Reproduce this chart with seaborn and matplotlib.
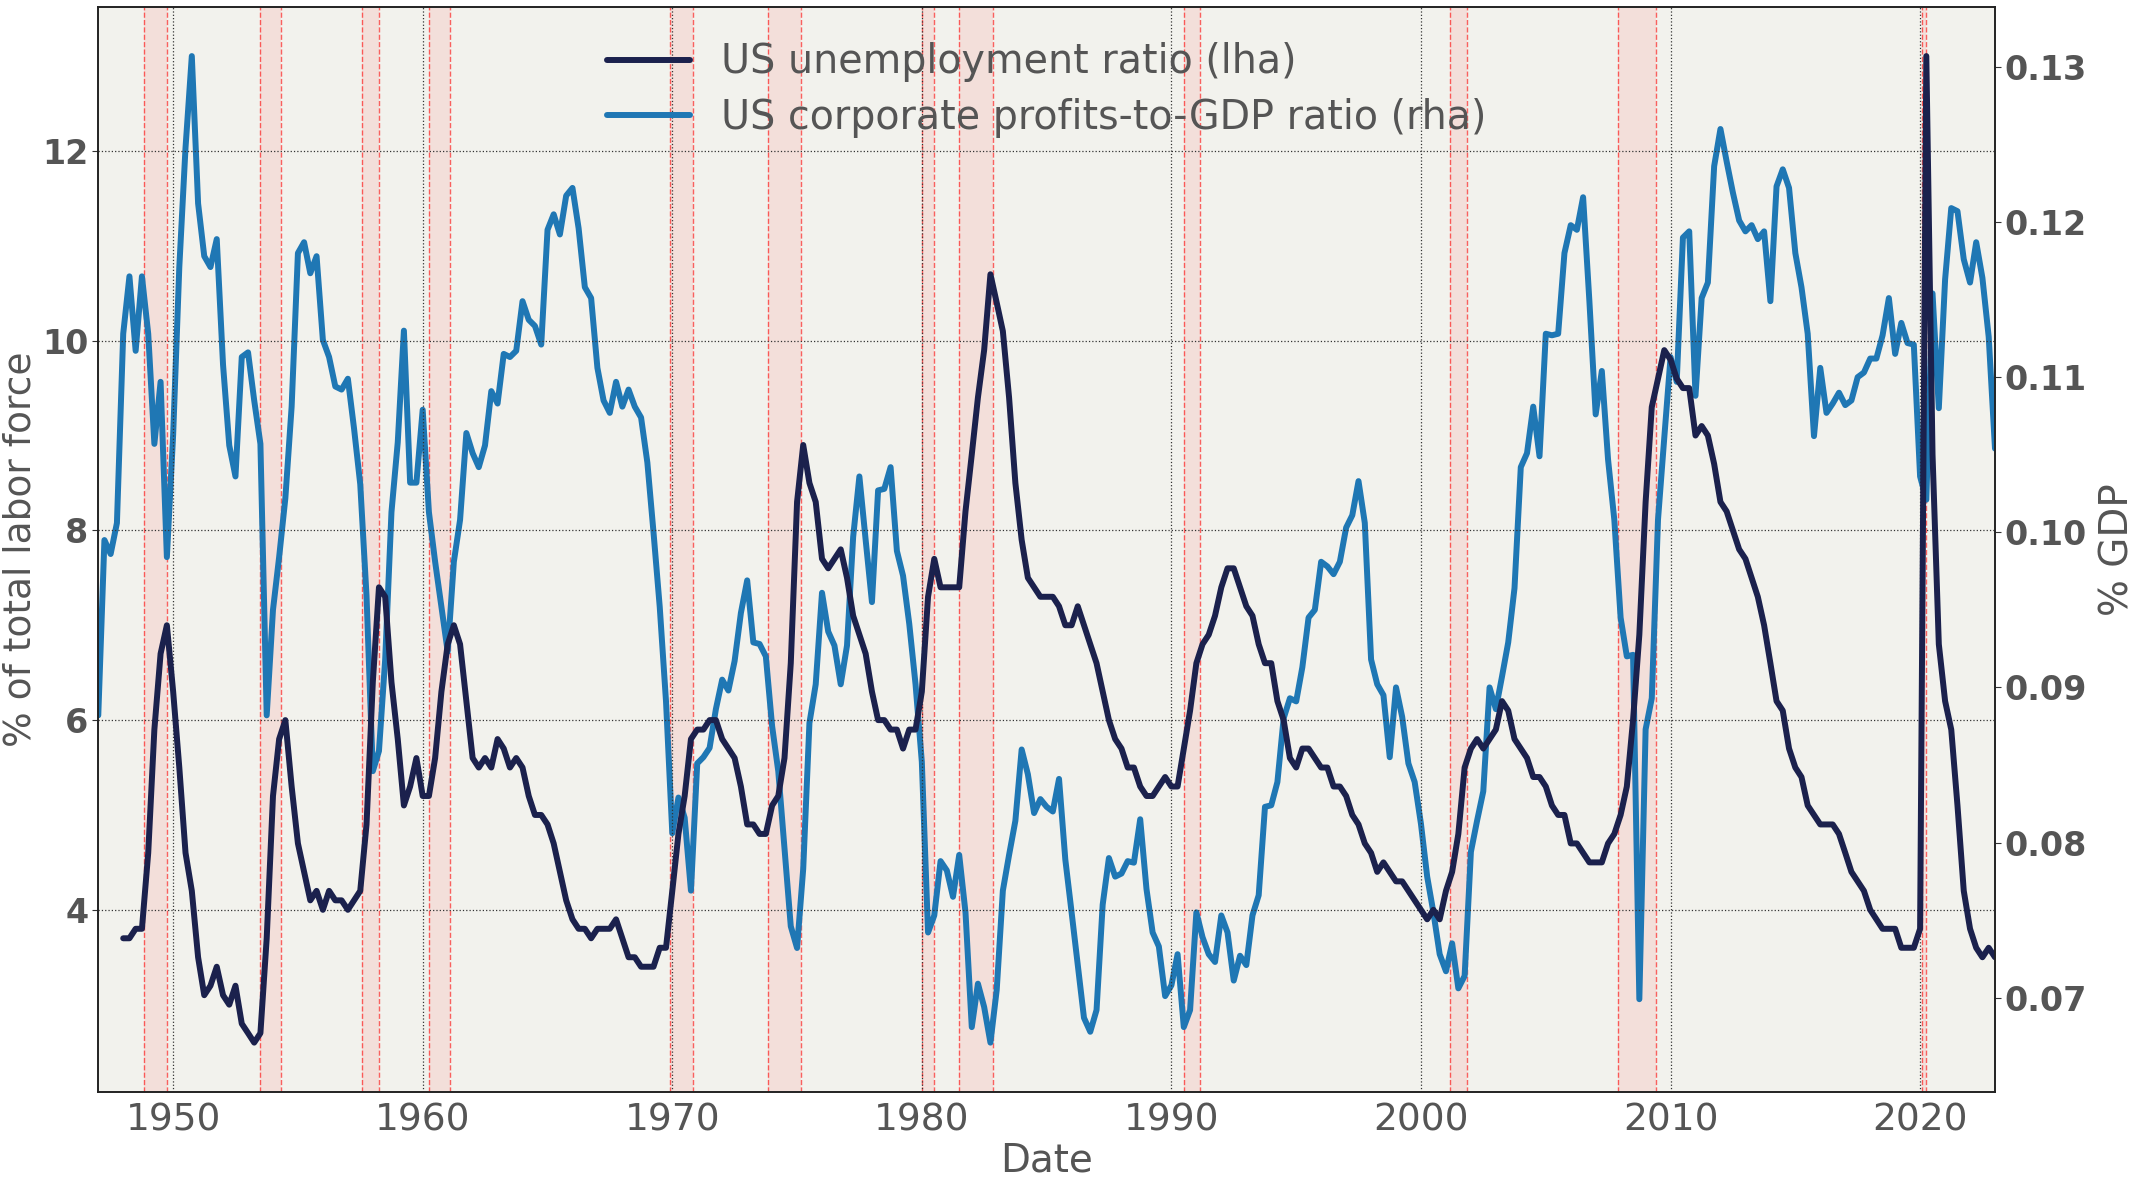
import matplotlib
matplotlib.use("Agg")
import matplotlib.pyplot as plt
import matplotlib.dates as mdates
import numpy as np
import pandas as pd
import seaborn as sns

# quarterly US unemployment rate, 1948Q1 - 2023Q1 (% of labor force)
unemployment = [
    3.7, 3.7, 3.8, 3.8,  4.6, 5.9, 6.7, 7.0,  6.3, 5.5, 4.6, 4.2,
    3.5, 3.1, 3.2, 3.4,  3.1, 3.0, 3.2, 2.8,  2.7, 2.6, 2.7, 3.7,
    5.2, 5.8, 6.0, 5.3,  4.7, 4.4, 4.1, 4.2,  4.0, 4.2, 4.1, 4.1,
    4.0, 4.1, 4.2, 4.9,  6.4, 7.4, 7.3, 6.4,  5.8, 5.1, 5.3, 5.6,
    5.2, 5.2, 5.6, 6.3,  6.8, 7.0, 6.8, 6.2,  5.6, 5.5, 5.6, 5.5,
    5.8, 5.7, 5.5, 5.6,  5.5, 5.2, 5.0, 5.0,  4.9, 4.7, 4.4, 4.1,
    3.9, 3.8, 3.8, 3.7,  3.8, 3.8, 3.8, 3.9,  3.7, 3.5, 3.5, 3.4,
    3.4, 3.4, 3.6, 3.6,  4.2, 4.8, 5.2, 5.8,  5.9, 5.9, 6.0, 6.0,
    5.8, 5.7, 5.6, 5.3,  4.9, 4.9, 4.8, 4.8,  5.1, 5.2, 5.6, 6.6,
    8.3, 8.9, 8.5, 8.3,  7.7, 7.6, 7.7, 7.8,  7.5, 7.1, 6.9, 6.7,
    6.3, 6.0, 6.0, 5.9,  5.9, 5.7, 5.9, 5.9,  6.3, 7.3, 7.7, 7.4,
    7.4, 7.4, 7.4, 8.2,  8.8, 9.4, 9.9, 10.7, 10.4, 10.1, 9.4, 8.5,
    7.9, 7.5, 7.4, 7.3,  7.3, 7.3, 7.2, 7.0,  7.0, 7.2, 7.0, 6.8,
    6.6, 6.3, 6.0, 5.8,  5.7, 5.5, 5.5, 5.3,  5.2, 5.2, 5.3, 5.4,
    5.3, 5.3, 5.7, 6.1,  6.6, 6.8, 6.9, 7.1,  7.4, 7.6, 7.6, 7.4,
    7.2, 7.1, 6.8, 6.6,  6.6, 6.2, 6.0, 5.6,  5.5, 5.7, 5.7, 5.6,
    5.5, 5.5, 5.3, 5.3,  5.2, 5.0, 4.9, 4.7,  4.6, 4.4, 4.5, 4.4,
    4.3, 4.3, 4.2, 4.1,  4.0, 3.9, 4.0, 3.9,  4.2, 4.4, 4.8, 5.5,
    5.7, 5.8, 5.7, 5.8,  5.9, 6.2, 6.1, 5.8,  5.7, 5.6, 5.4, 5.4,
    5.3, 5.1, 5.0, 5.0,  4.7, 4.7, 4.6, 4.5,  4.5, 4.5, 4.7, 4.8,
    5.0, 5.3, 6.0, 6.9,  8.3, 9.3, 9.6, 9.9,  9.8, 9.6, 9.5, 9.5,
    9.0, 9.1, 9.0, 8.7,  8.3, 8.2, 8.0, 7.8,  7.7, 7.5, 7.3, 7.0,
    6.6, 6.2, 6.1, 5.7,  5.5, 5.4, 5.1, 5.0,  4.9, 4.9, 4.9, 4.8,
    4.6, 4.4, 4.3, 4.2,  4.0, 3.9, 3.8, 3.8,  3.8, 3.6, 3.6, 3.6,
    3.8, 13.0, 8.8, 6.8, 6.2, 5.9, 5.1, 4.2,  3.8, 3.6, 3.5, 3.6,
    3.5,
]

# quarterly US corporate profits / GDP, 1947Q1 - 2023Q1
profits_gdp = [
    0.0882, 0.0995, 0.0986, 0.1006,  0.1128, 0.1165, 0.1117, 0.1165,
    0.1128, 0.1057, 0.1097, 0.0984,  0.1063, 0.1171, 0.1248, 0.1307,
    0.1212, 0.1178, 0.1171, 0.1189,  0.1108, 0.1056, 0.1036, 0.1113,
    0.1116, 0.1085, 0.1057, 0.0882,  0.0950, 0.0984, 0.1022, 0.1081,
    0.1180, 0.1187, 0.1167, 0.1178,  0.1124, 0.1113, 0.1094, 0.1092,
    0.1099, 0.1067, 0.1031, 0.0959,  0.0846, 0.0859, 0.0918, 0.1013,
    0.1058, 0.1130, 0.1032, 0.1032,  0.1079, 0.1013, 0.0981, 0.0952,
    0.0923, 0.0981, 0.1008, 0.1064,  0.1051, 0.1042, 0.1056, 0.1091,
    0.1083, 0.1115, 0.1113, 0.1117,  0.1149, 0.1137, 0.1133, 0.1121,
    0.1195, 0.1205, 0.1192, 0.1217,  0.1222, 0.1196, 0.1158, 0.1151,
    0.1106, 0.1085, 0.1077, 0.1097,  0.1081, 0.1092, 0.1081, 0.1074,
    0.1045, 0.1000, 0.0952, 0.0891,  0.0806, 0.0829, 0.0816, 0.0769,
    0.0851, 0.0855, 0.0861, 0.0886,  0.0905, 0.0898, 0.0917, 0.0948,
    0.0969, 0.0929, 0.0928, 0.0920,  0.0875, 0.0846, 0.0796, 0.0746,
    0.0732, 0.0783, 0.0877, 0.0902,  0.0961, 0.0936, 0.0927, 0.0902,
    0.0927, 0.0997, 0.1036, 0.0995,  0.0955, 0.1027, 0.1028, 0.1042,
    0.0988, 0.0972, 0.0941, 0.0902,  0.0852, 0.0742, 0.0753, 0.0788,
    0.0782, 0.0765, 0.0792, 0.0755,  0.0681, 0.0709, 0.0694, 0.0671,
    0.0705, 0.0769, 0.0792, 0.0814,  0.0860, 0.0844, 0.0819, 0.0828,
    0.0823, 0.0820, 0.0841, 0.0789,  0.0755, 0.0721, 0.0687, 0.0678,
    0.0692, 0.0760, 0.0790, 0.0778,  0.0780, 0.0788, 0.0787, 0.0815,
    0.0770, 0.0742, 0.0733, 0.0701,  0.0708, 0.0728, 0.0681, 0.0692,
    0.0755, 0.0739, 0.0728, 0.0723,  0.0753, 0.0742, 0.0711, 0.0727,
    0.0721, 0.0753, 0.0766, 0.0823,  0.0824, 0.0839, 0.0880, 0.0893,
    0.0891, 0.0913, 0.0945, 0.0950,  0.0981, 0.0978, 0.0973, 0.0981,
    0.1003, 0.1011, 0.1033, 0.1006,  0.0918, 0.0902, 0.0895, 0.0855,
    0.0900, 0.0881, 0.0851, 0.0839,  0.0812, 0.0778, 0.0755, 0.0728,
    0.0717, 0.0735, 0.0706, 0.0714,  0.0794, 0.0814, 0.0833, 0.0900,
    0.0886, 0.0907, 0.0929, 0.0964,  0.1042, 0.1051, 0.1081, 0.1049,
    0.1128, 0.1127, 0.1128, 0.1180,  0.1198, 0.1195, 0.1216, 0.1149,
    0.1076, 0.1104, 0.1047, 0.1008,  0.0945, 0.0920, 0.0921, 0.0699,
    0.0873, 0.0893, 0.1008, 0.1061,  0.1113, 0.1097, 0.1190, 0.1194,
    0.1088, 0.1151, 0.1161, 0.1236,  0.1260, 0.1239, 0.1219, 0.1201,
    0.1194, 0.1198, 0.1189, 0.1194,  0.1149, 0.1223, 0.1234, 0.1222,
    0.1180, 0.1158, 0.1128, 0.1062,  0.1106, 0.1077, 0.1083, 0.1090,
    0.1082, 0.1085, 0.1100, 0.1103,  0.1112, 0.1112, 0.1127, 0.1151,
    0.1115, 0.1135, 0.1122, 0.1121,  0.1036, 0.1021, 0.1154, 0.1080,
    0.1163, 0.1209, 0.1207, 0.1176,  0.1161, 0.1187, 0.1164, 0.1126,
    0.1054,
]

profit_dates = pd.date_range("1947-01-01", "2023-01-01", freq="QS")
unemp_dates = pd.date_range("1948-01-01", "2023-01-01", freq="QS")

# NBER recessions (peak, trough)
recessions = [
    ("1948-11-01", "1949-10-01"), ("1953-07-01", "1954-05-01"),
    ("1957-08-01", "1958-04-01"), ("1960-04-01", "1961-02-01"),
    ("1969-12-01", "1970-11-01"), ("1973-11-01", "1975-03-01"),
    ("1980-01-01", "1980-07-01"), ("1981-07-01", "1982-11-01"),
    ("1990-07-01", "1991-03-01"), ("2001-03-01", "2001-11-01"),
    ("2007-12-01", "2009-06-01"), ("2020-02-01", "2020-04-01"),
]

NAVY = "#1b214d"
BLUE = "#1f77b4"
BG = "#f2f2ed"
TXT = "#555555"

sns.set_style("white")
plt.rcParams["font.family"] = ["DejaVu Sans"]

fig = plt.figure(figsize=(21.41, 11.86), dpi=100)
ax = fig.add_axes([0.0459, 0.0793, 0.8859, 0.915])
ax2 = ax.twinx()
# unemployment drawn on top, background on the twin
ax.set_zorder(ax2.get_zorder() + 1)
ax.patch.set_visible(False)
ax2.patch.set_visible(True)
ax2.set_facecolor(BG)

for start, end in recessions:
    s, e = pd.Timestamp(start), pd.Timestamp(end)
    ax2.axvspan(s, e, color="red", alpha=0.08, lw=0, zorder=0)
    for d in (s, e):
        ax2.axvline(d, color="red", ls="--", lw=1.0, alpha=0.6, zorder=0.5)

sns.lineplot(x=unemp_dates, y=unemployment, ax=ax, color=NAVY, linewidth=4.3,
             label="US unemployment ratio (lha)")
sns.lineplot(x=profit_dates, y=profits_gdp, ax=ax2, color=BLUE, linewidth=4.3,
             label="US corporate profits-to-GDP ratio (rha)")

h1, l1 = ax.get_legend_handles_labels()
h2, l2 = ax2.get_legend_handles_labels()
ax.get_legend().remove()
ax2.get_legend().remove()
ax.legend(h1 + h2, l1 + l2, loc="upper center", frameon=False, fontsize=28.5,
          labelspacing=0.4, handlelength=2.1, handletextpad=0.8, labelcolor=TXT)

ax.set_xlim(profit_dates[0], profit_dates[-1])
ax.xaxis.set_major_locator(mdates.YearLocator(10))
ax.xaxis.set_minor_locator(mdates.YearLocator(5))
ax.xaxis.set_major_formatter(mdates.DateFormatter("%Y"))

ax.set_yticks([4, 6, 8, 10, 12])
ax2.set_yticks([0.07, 0.08, 0.09, 0.10, 0.11, 0.12, 0.13])
ax2.yaxis.set_major_formatter(matplotlib.ticker.FormatStrFormatter("%.2f"))

ax.grid(True, which="major", axis="both", ls=":", color="#333333", lw=0.9)
ax2.grid(False)

ax.set_xlabel("Date", fontsize=28, color=TXT, labelpad=2)
ax.set_ylabel("% of total labor force", fontsize=27, color=TXT, labelpad=3)
ax2.set_ylabel("% GDP", fontsize=28, color=TXT, labelpad=8)

ax.tick_params(axis="x", labelsize=27, labelcolor=TXT, length=4, color="#333333")
ax.tick_params(axis="x", which="minor", length=3, color="#333333")
ax.tick_params(axis="y", labelsize=24, labelcolor=TXT, length=4, pad=3, color="#333333")
ax2.tick_params(axis="y", labelsize=24, labelcolor=TXT, length=4, pad=3, color="#333333")
for lab in ax.get_yticklabels() + ax2.get_yticklabels():
    lab.set_fontweight("bold")

for a in (ax, ax2):
    for sp in a.spines.values():
        sp.set_visible(True)
        sp.set_color("#222222")
        sp.set_linewidth(1.2)

fig.savefig("out.png", dpi=100)
